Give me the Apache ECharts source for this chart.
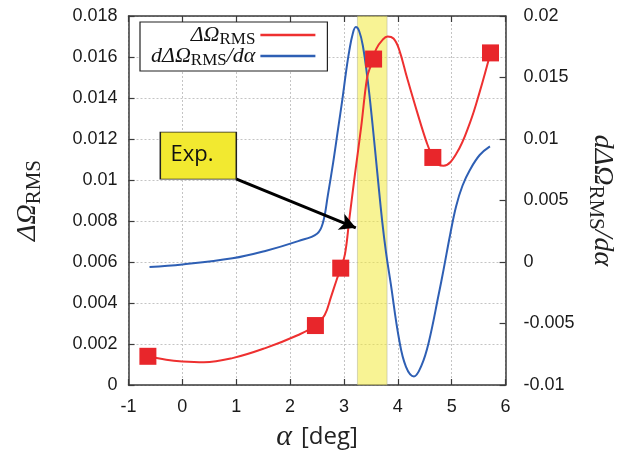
<!DOCTYPE html>
<html>
<head>
<meta charset="utf-8">
<script src="https://cdn.jsdelivr.net/npm/echarts@6/dist/echarts.min.js"></script>
<style>
  html, body { margin: 0; padding: 0; background: #fff; }
  #chart { width: 624px; height: 457px; }
</style>
</head>
<body>
<div id="chart"></div>
<script>
// Angle of attack tick range
const alphaTicks = [-1, 0, 1, 2, 3, 4, 5, 6];

// Computed RMS deviation (left axis): sampled points
const rmsMarkAlpha = [-0.64, 2.47, 2.94, 3.55, 4.65, 5.72];
const rmsMarkValue = [0.0014, 0.0029, 0.0057, 0.0159, 0.0111, 0.0162];

// Fitted curve of the RMS deviation
const rmsCurveAlpha = [-0.64, -0.3, 0.0, 0.4, 0.93, 1.54, 2.15, 2.47, 2.64, 2.76, 2.86, 2.94,
  3.02, 3.10, 3.20, 3.32, 3.43, 3.50, 3.60, 3.72, 3.81, 3.92, 4.02, 4.17, 4.36, 4.54, 4.65, 4.75, 4.85, 5.09, 5.34, 5.52, 5.72];
const rmsCurveValue = [0.0014, 0.00123, 0.00115, 0.00111, 0.00131, 0.0018, 0.00244, 0.0029, 0.0034, 0.0043, 0.0051, 0.0057,
  0.0064, 0.0081, 0.0102, 0.0126, 0.0150, 0.0156, 0.0164, 0.01685, 0.0170, 0.0169, 0.0164, 0.0150, 0.0133, 0.0118, 0.0111, 0.01075, 0.0107, 0.0113, 0.0128, 0.0143, 0.0162];

// Derivative of the RMS deviation (right axis)
const derivAlpha = [-0.61, 0.0, 0.93, 1.54, 2.15, 2.5, 2.61, 2.70, 2.80, 2.89, 2.97, 3.04, 3.10, 3.16, 3.22,
  3.28, 3.35, 3.44, 3.53, 3.62, 3.71, 3.78, 3.87, 4.02, 4.15, 4.30, 4.44, 4.57, 4.76, 4.85, 4.97, 5.08, 5.20, 5.34, 5.52, 5.71];
const derivValue = [-0.0004, -0.0002, 0.0003, 0.0009, 0.0017, 0.0023, 0.0032, 0.0054, 0.0081, 0.0108, 0.0132, 0.0155, 0.0172, 0.0185, 0.0191,
  0.0188, 0.0176, 0.0148, 0.0112, 0.0072, 0.0033, 0.0008, -0.0018, -0.0062, -0.0085, -0.0093, -0.0084, -0.0066, -0.0026, -0.0006, 0.0022, 0.0045, 0.0062, 0.0075, 0.0087, 0.0094];

// Experimental angle range and its annotation
const expRange = [3.25, 3.8];
const expLabel = 'Exp.';
const expBoxAt = [0.296, 0.01119];
const expArrow = [[0.995, 0.01005], [3.22, 0.00767]];

const pairs = (xs, ys) => xs.map((x, i) => [x, ys[i]]);
const fmt = v => String(parseFloat(v.toFixed(4)));

const frame = '#3a3a3a';
const gridStyle = { color: '#c4c4c4', width: 1, type: [2, 2] };
const tickFont = { fontFamily: 'Liberation Sans', fontSize: 18, color: '#1a1a1a' };
const serif = 'Liberation Serif';
const frameLine = { show: true, onZero: false, lineStyle: { color: frame, width: 1.5 } };
const frameTick = { show: true, inside: true, length: 6, lineStyle: { color: frame, width: 1.2 } };

const rich = {
  i: { fontFamily: serif, fontStyle: 'italic', fontSize: 22, color: '#111' },
  s: { fontFamily: serif, fontSize: 17, color: '#111', padding: [9, 0, 0, 0] }
};

const legendNames = { rms: '{i|ΔΩ}{s|RMS}', deriv: '{i|dΔΩ}{s|RMS}{i|/dα}' };

const chart = echarts.init(document.getElementById('chart'));
chart.setOption({
  animation: false,
  backgroundColor: '#fff',
  grid: { left: 128.5, right: 114.5, top: 16, bottom: 70 },
  legend: {
    left: 140, top: 22,
    orient: 'vertical',
    align: 'right',
    padding: [2, 12, 2, 11],
    itemGap: -3,
    itemWidth: 55, itemHeight: 2.5,
    borderColor: '#222', borderWidth: 1.2, backgroundColor: '#fff',
    data: [{ name: 'rms', icon: 'rect' }, { name: 'deriv', icon: 'rect' }],
    formatter: n => legendNames[n],
    textStyle: { rich: rich, lineHeight: 22 }
  },
  xAxis: [{
    type: 'value', min: alphaTicks[0], max: alphaTicks[alphaTicks.length - 1], interval: 1,
    name: '{a|α}{g| }{b|[deg]}', nameLocation: 'middle', nameGap: 37,
    nameTextStyle: { rich: {
      a: { fontFamily: serif, fontStyle: 'italic', fontSize: 30, color: '#222' },
      g: { fontSize: 24, width: 9 },
      b: { fontFamily: 'Open Sans', fontSize: 24, color: '#222' } } },
    axisLine: frameLine,
    axisTick: frameTick,
    axisLabel: Object.assign({ margin: 13, formatter: fmt }, tickFont),
    splitLine: { show: true, lineStyle: gridStyle }
  }, {
    type: 'value', position: 'top', min: alphaTicks[0], max: alphaTicks[alphaTicks.length - 1], interval: 1,
    axisLine: frameLine,
    axisTick: frameTick,
    axisLabel: { show: false },
    splitLine: { show: false }
  }],
  yAxis: [{
    type: 'value', min: 0, max: 0.018, interval: 0.002, position: 'left',
    name: '{i|ΔΩ}{s|RMS}', nameLocation: 'middle', nameGap: 84, nameRotate: 90,
    nameTextStyle: { rich: {
      i: { fontFamily: serif, fontStyle: 'italic', fontSize: 28, color: '#222' },
      s: { fontFamily: serif, fontSize: 21, color: '#222', padding: [12, 0, 0, 0] } } },
    axisLine: frameLine,
    axisTick: frameTick,
    axisLabel: Object.assign({ margin: 11, formatter: fmt }, tickFont),
    splitLine: { show: true, lineStyle: gridStyle }
  }, {
    type: 'value', min: -0.01, max: 0.02, interval: 0.005, position: 'right',
    name: '{i|dΔΩ}{s|RMS}{i|/dα}', nameLocation: 'middle', nameGap: 78, nameRotate: -90,
    nameTextStyle: { rich: {
      i: { fontFamily: serif, fontStyle: 'italic', fontSize: 28, color: '#222' },
      s: { fontFamily: serif, fontSize: 21, color: '#222', padding: [12, 0, 0, 0] } } },
    axisLine: frameLine,
    axisTick: frameTick,
    axisLabel: Object.assign({ margin: 18, formatter: fmt }, tickFont),
    splitLine: { show: false }
  }],
  series: [{
    name: 'deriv', type: 'line', yAxisIndex: 1, z: 2,
    data: pairs(derivAlpha, derivValue),
    smooth: 0.4, showSymbol: false,
    lineStyle: { color: '#2e5fb4', width: 2 }, itemStyle: { color: '#2e5fb4' }
  }, {
    name: 'rms', type: 'line', yAxisIndex: 0, z: 2,
    data: pairs(rmsCurveAlpha, rmsCurveValue),
    smooth: 0.4, showSymbol: false,
    lineStyle: { color: '#ee3030', width: 2 }, itemStyle: { color: '#ee3030' }
  }, {
    name: 'rmsPoints', type: 'scatter', yAxisIndex: 0, z: 3,
    data: pairs(rmsMarkAlpha, rmsMarkValue),
    symbol: 'rect', symbolSize: 17,
    itemStyle: { color: '#e8262b', opacity: 1 }
  }, {
    name: 'expBand', type: 'line', yAxisIndex: 0, z: 4, data: [],
    markArea: {
      silent: true,
      itemStyle: { color: 'rgba(242,234,60,0.55)', borderColor: 'rgba(170,170,150,0.6)', borderWidth: 0.8 },
      data: [[{ xAxis: expRange[0] }, { xAxis: expRange[1] }]]
    }
  }, {
    name: 'expNote', type: 'line', yAxisIndex: 0, z: 5, data: [],
    markLine: {
      silent: true,
      symbol: ['none', 'arrow'], symbolSize: [13, 16],
      lineStyle: { color: '#000', width: 3, type: 'solid' },
      label: { show: false },
      data: [[{ coord: expArrow[0] }, { coord: expArrow[1] }]]
    },
    markPoint: {
      silent: true,
      symbol: 'rect', symbolSize: [76, 47],
      itemStyle: { color: '#f2e930', borderColor: '#222', borderWidth: 1.2 },
      label: { show: true, formatter: expLabel, position: [11, 12],
        fontFamily: 'Open Sans', fontSize: 22, color: '#111' },
      data: [{ coord: expBoxAt }]
    }
  }]
});
</script>
</body>
</html>
